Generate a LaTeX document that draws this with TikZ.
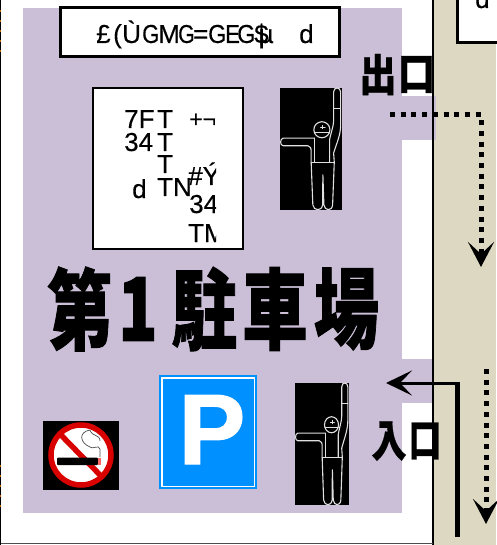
\documentclass[tikz,border=0pt]{standalone}
\usepackage{fontspec}
\setmainfont[FakeBold=0.35]{Liberation Sans}
\newfontfamily\cjk[FakeBold=1.2]{Noto Sans CJK JP Black}
\newfontfamily\cjkb[FakeBold=0.6]{Noto Sans CJK JP Black}
\newfontfamily\pfont[FakeBold=1.2]{Liberation Sans Bold}
\usetikzlibrary{arrows.meta}
\definecolor{lav}{HTML}{CBBFD8}
\definecolor{road}{HTML}{DCD8C2}
\definecolor{signblue}{HTML}{0090FF}
\tikzset{
  lab/.style={anchor=base west,inner sep=0pt,font=\fontsize{26}{26}\selectfont},
  big/.style={anchor=center,inner sep=0pt,text=black,font=\cjk\fontsize{88}{88}\selectfont},
  small/.style={anchor=center,inner sep=0pt,text=black,font=\cjkb\fontsize{44}{44}\selectfont},
  manline/.style={draw=white!88!black,line width=1.1pt,line join=round,line cap=round},
  dots/.style={line width=5pt,dash pattern=on 5pt off 5.7pt},
  tipb/.style={-{Stealth[length=25pt,width=26pt,inset=12pt]}},
}
\newcommand{\guideman}[3]{%
  \begin{scope}[shift={(#1,#2)},xscale=#3,yscale=.334,shift={(-15,-10)}]
    \fill[black] (15,10) rectangle (200,375);
    \draw[manline] (118,160) -- (25,160) .. controls (14,161) and (14,183) .. (25,183) -- (98,183) .. controls (106,184) and (108,190) .. (108,200) -- (108,232) -- (113,360) .. controls (115,378) and (140,380) .. (142,360) -- (143,270) -- (146,360) .. controls (148,378) and (170,380) .. (172,360) -- (177,232) -- (175,205) .. controls (186,170) and (196,150) .. (196,120) -- (196,22) .. controls (196,6) and (175,6) .. (175,22) -- (175,110) .. controls (175,125) and (165,150) .. (163,165) -- (163,232);
    \draw[manline] (118,160) -- (118,232);
    \draw[manline] (108,232) -- (177,232);
    \draw[manline] (175,72) -- (196,72);
    \draw[manline] (140,135) ellipse (24 and 24);
    \draw[manline] (118,142) -- (163,142);
    \draw[manline,line width=.8pt] (136,127) -- (150,127) (143,122) -- (143,132);
  \end{scope}}
\begin{document}
\begin{tikzpicture}[x=1pt,y=-1pt]
\useasboundingbox (0,0) rectangle (496,545);
\fill[white] (0,0) rectangle (496,545);
% background areas
\fill[road] (434,0) rectangle (496,545);
\fill[lav] (23,8) rectangle (402,513);
\fill[lav] (402,96) rectangle (436,140);
\fill[lav] (402,359) rectangle (432,403);
\draw[line width=2.2pt] (433,0) -- (433,545);
\draw[line width=1pt,black!70] (0,543.5) -- (433,543.5);
\draw[line width=1.6pt] (0.5,0) -- (0.5,545);
\draw[orange!80!black,line width=1.6pt,dash pattern=on 2pt off 8pt] (0.5,10) -- (0.5,55) (0.5,465) -- (0.5,512);
% top right box
\node[draw,line width=3pt,fill=white,minimum width=60pt,minimum height=60pt,inner sep=0pt] (corner) at (487.5,13) {};
\node[lab] (cornerd) at (475,8) {d};
% title box
\node[draw,line width=3pt,fill=white,minimum width=279pt,minimum height=49pt,inner sep=0pt] (titlebox) at (199.5,32.5) {};
\node[lab] (t1) at (96,43) {£};
\node[lab] (t2) at (113,43) {(};
\node[lab] (t3) at (122,43) {Ù};
\node[lab] (t4) at (142,43) {\scalebox{.85}[1]{G}};
\node[lab] (t5) at (158,43) {M};
\node[lab] (t6) at (178,43) {\scalebox{.82}[1]{G}};
\node[lab] (t7) at (193,43) {=};
\node[lab] (t8) at (208,43) {\scalebox{.9}[1]{G}};
\node[lab] (t9) at (225,43) {\scalebox{.85}[1]{E}};
\node[lab] (t10) at (237,43) {\scalebox{.9}[1]{G}};
\node[lab] (t11) at (254,43) {\$};
\node[lab] (t12) at (258.5,43) {µ};
\node[lab] (t13) at (299,43) {d};
% info box
\node[draw,line width=1.3pt,fill=white,minimum width=150pt,minimum height=161pt,inner sep=0pt] (infobox) at (168,168.5) {};
\node[lab] (a1) at (124,128) {7F};
\node[lab] (a2) at (157,128) {T};
\node[lab] (a3) at (124,151) {34};
\node[lab] (a4) at (157,151) {T};
\node[lab] (a5) at (157,173) {T};
\node[lab] (a6) at (132,198) {d};
\node[lab] (a7) at (157,196) {TN};
\begin{scope}
  \clip (186,100) rectangle (216,245);
  \node[lab,font=\fontsize{23}{23}\selectfont] (b1) at (189,127) {+¬};
  \node[lab] (b2) at (188,185) {\#Ý};
  \node[lab] (b3) at (189,213) {34};
  \node[lab] (b4) at (188,242) {TM};
\end{scope}
% guides
\guideman{280}{88}{.335}
\guideman{295}{383}{.292}
% big title
\node[big] (m1) at (80,309) {\scalebox{.74}[1]{第}};
\node[big] (m2) at (138,309) {\scalebox{.74}[1]{1}};
\node[big] (m3) at (204.5,309) {\scalebox{.74}[1]{駐}};
\node[big] (m4) at (275,309) {\scalebox{.74}[1]{車}};
\node[big] (m5) at (346.5,309) {\scalebox{.74}[1]{場}};
% labels
\node[small] (ex1) at (378,74.5) {\scalebox{.85}[1]{出}};
\node[small] (ex2) at (416.5,74.5) {\scalebox{.85}[1]{口}};
\node[small] (en1) at (389,441) {\scalebox{.8}[1]{入}};
\node[small] (en2) at (425,441) {\scalebox{.75}[1]{口}};
% P sign
\node[draw=signblue,line width=2pt,fill=white,minimum width=96pt,minimum height=112pt,inner sep=0pt] (psign) at (208,432) {};
\node[draw=white,line width=1pt,fill=signblue,minimum width=92pt,minimum height=108pt,inner sep=0pt] (pinner) at (208,432) {};
\node[anchor=base,inner sep=0pt,text=white,font=\pfont\fontsize{100}{100}\selectfont] (pletter) at (212,464) {P};
% no smoking
\fill[black] (43,421) rectangle (119,490);
\fill[white] (81,455) circle (30);
\draw[red!85!black,line width=5.5pt] (81,455) circle (30);
\draw[red!85!black,line width=5.5pt] (60,434) -- (102,477);
\fill[black,rounded corners=1pt] (57,457.5) rectangle (98,465);
\fill[red!60!white] (98,457.5) rectangle (101,465);
\draw[black!70,line width=.7pt] (100,457) -- (100,449) .. controls (99,444) and (92,450) .. (90,447) .. controls (80,443) and (78,432) .. (90,430) .. controls (92,437) and (100,434) .. (100,441);
% arrows
\coordinate (exitA) at (390,115);
\coordinate (exitB) at (481,115);
\coordinate (exitC) at (481,267);
\draw[dots,tipb] (exitA) -- (exitB) -- (exitC);
\coordinate (downA) at (486,369);
\coordinate (downB) at (486,524);
\draw[dots,tipb] (downA) -- (downB);
\coordinate (inA) at (457,537);
\coordinate (inB) at (457,383);
\coordinate (inC) at (386,383);
\draw[line width=5pt] (inA) -- (inB);
\draw[line width=3pt,-{Stealth[length=26pt,width=25pt,inset=12pt]}] (459.5,383) -- (inC);
\end{tikzpicture}
\end{document}
